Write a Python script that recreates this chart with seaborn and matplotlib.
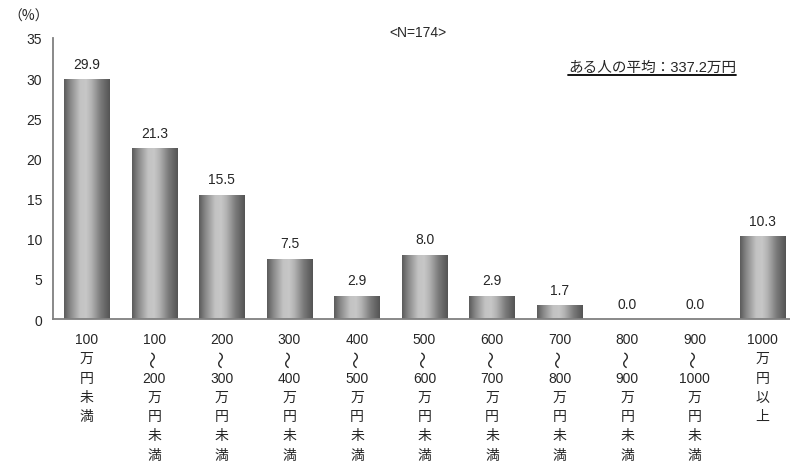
import numpy as np
import pandas as pd
import matplotlib
matplotlib.use("Agg")
import matplotlib.pyplot as plt
import seaborn as sns
from matplotlib.lines import Line2D

# ---- data ----
lower = ["100", "100", "200", "300", "400", "500", "600", "700", "800", "900", "1000"]
upper = ["", "200", "300", "400", "500", "600", "700", "800", "900", "1000", ""]
values = [29.9, 21.3, 15.5, 7.5, 2.9, 8.0, 2.9, 1.7, 0.0, 0.0, 10.3]
y_ticks = [0, 5, 10, 15, 20, 25, 30, 35]
n_label = "<N=174>"
avg_label = "ある人の平均：337.2万円"
unit_label = "（%）"


def label_lines(i):
    if i == 0:
        return [lower[i], "万", "円", "未", "満"]
    if i == len(lower) - 1:
        return [lower[i], "万", "円", "以", "上"]
    return [lower[i], "～", upper[i], "万", "円", "未", "満"]


cats = [f"c{i}" for i in range(len(values))]
df = pd.DataFrame({"cat": cats, "val": values})

sns.set_style("white")
FAM = ["Liberation Sans", "Noto Sans CJK JP", "DejaVu Sans"]
plt.rcParams["font.family"] = FAM

fig = plt.figure(figsize=(7.9, 4.64), dpi=100)
ax = fig.add_axes([53 / 790, 1 - 320 / 464, 1 - 53 / 790, (320 - 39) / 464])

sns.barplot(data=df, x="cat", y="val", ax=ax, width=0.67, color="#999999", saturation=1)

ax.set_xlabel("")
ax.set_ylabel("")
ax.set_yticks(y_ticks)

# gradient fill for bars
grad = np.array([0.0, 0.15, 0.35, 0.48, 0.6, 0.8, 1.0])
gvals = np.interp(np.linspace(0, 1, 100), grad,
                  [0.36, 0.55, 0.76, 0.78, 0.70, 0.48, 0.33])
gimg = np.tile(gvals, (2, 1))
for p in ax.patches:
    x0, y0 = p.get_x(), p.get_y()
    w, h = p.get_width(), p.get_height()
    p.set_facecolor("none")
    p.set_edgecolor("none")
    if h <= 0:
        continue
    im = ax.imshow(gimg, cmap="gray", vmin=0, vmax=1, aspect="auto",
                   extent=[x0, x0 + w, y0, y0 + h], interpolation="bilinear",
                   zorder=2)
    im.set_clip_path(p)
ax.set_xlim(-0.5, 10.41)
ax.set_ylim(0, 35)

# value labels
for i, v in enumerate(values):
    ax.annotate(f"{v:.1f}", (i, v), xytext=(0, 6), textcoords="offset points",
                ha="center", va="bottom", fontsize=10)

# category labels, stacked vertically
ax.set_xticks(range(len(values)))
ax.set_xticklabels([""] * len(values))
px = 0.72  # points per pixel
for i in range(len(values)):
    for k, s in enumerate(label_lines(i)):
        off = -(20 + 19.3 * k) * px
        if s == "～":
            ax.annotate(s, (i, 0), xytext=(0, off), textcoords="offset points",
                        ha="center", va="center", fontsize=12.5, rotation=90,
                        family=["Noto Sans CJK JP", "DejaVu Sans"],
                        annotation_clip=False)
        else:
            ax.annotate(s, (i, 0), xytext=(0, off), textcoords="offset points",
                        ha="center", va="center", fontsize=10,
                        annotation_clip=False)

# spines / ticks
for s in ["top", "right"]:
    ax.spines[s].set_visible(False)
for s in ["left", "bottom"]:
    ax.spines[s].set_color("#808080")
    ax.spines[s].set_linewidth(1.3)
ax.tick_params(axis="y", direction="in", length=5, color="#808080", width=1.2,
               labelsize=10, pad=8)
ax.tick_params(axis="x", which="major", length=0)
ax.set_xticks(np.arange(0.5, 10.5, 1.0), minor=True)
ax.tick_params(axis="x", which="minor", direction="in", length=5, color="#808080", width=1.2)

fig.text(8 / 790, 1 - 17 / 464, unit_label, fontsize=10, va="center", ha="left",
         family=["Noto Sans CJK JP", "DejaVu Sans"])
fig.text(418 / 790, 1 - 33 / 464, n_label, fontsize=10, va="center", ha="center")
t_avg = fig.text(652 / 790, 1 - 68 / 464, avg_label, fontsize=10.5, va="center", ha="center")

fig.canvas.draw()
bb = t_avg.get_window_extent().transformed(fig.transFigure.inverted())
fig.add_artist(Line2D([bb.x0, bb.x1], [bb.y0 - 0.002, bb.y0 - 0.002],
                      transform=fig.transFigure, color="black", linewidth=1.3))

fig.savefig("out.png", dpi=100)
